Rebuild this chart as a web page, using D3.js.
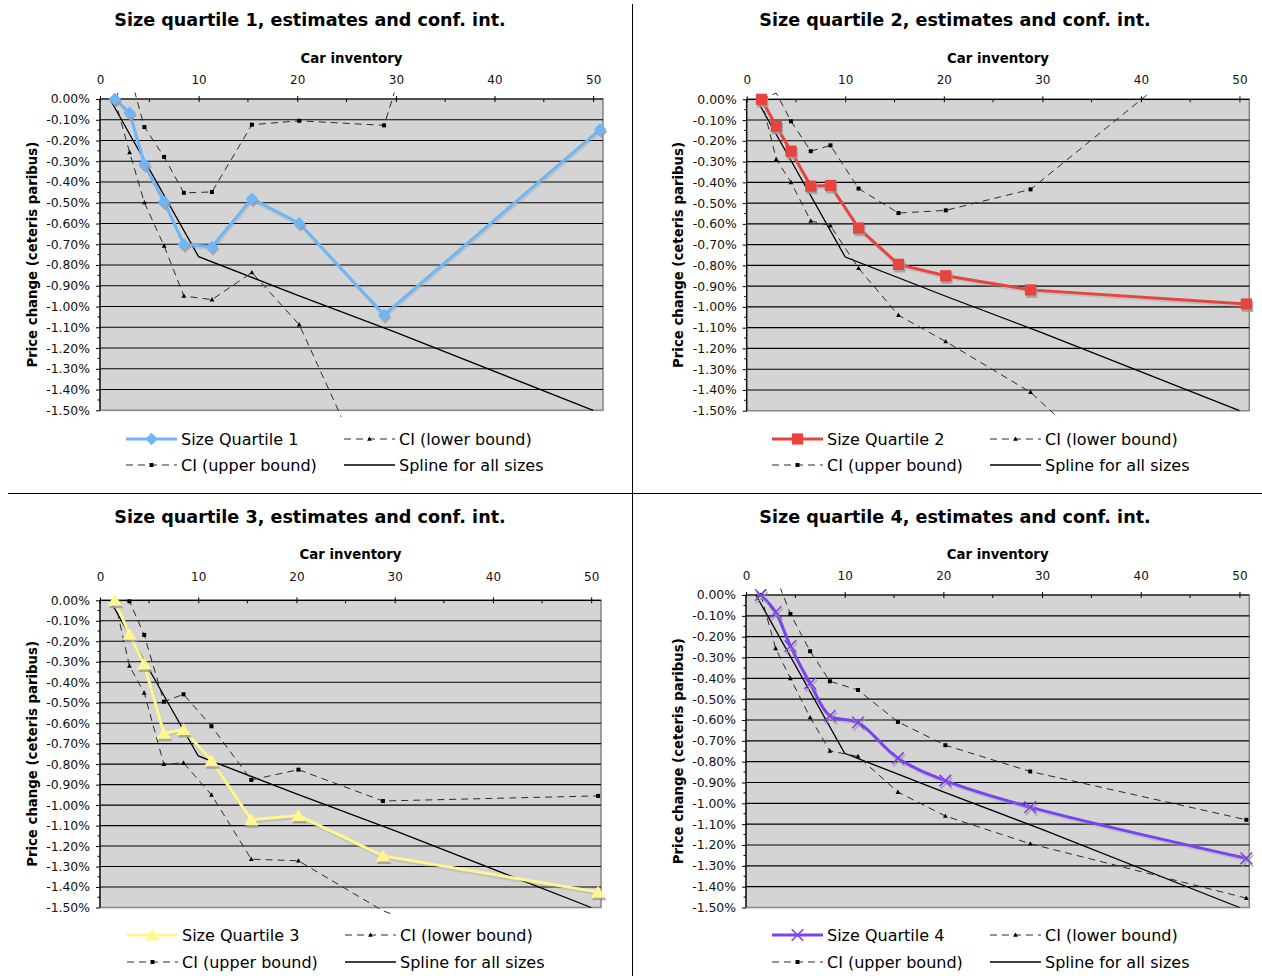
<!DOCTYPE html>
<html><head><meta charset="utf-8">
<script src="https://cdn.jsdelivr.net/npm/d3@7"></script>
<style>
body{margin:0;background:#fff}
svg{display:block}
text{font-family:"DejaVu Sans",Verdana,sans-serif}
</style>
</head><body>
<svg id="chart" width="1262" height="976"></svg>
<script>
// ---------------- data ----------------
const inventory = [1.5, 3.0, 4.5, 6.5, 8.5, 11.35, 15.4, 20.2, 28.8, 50.7];

const q1Est   = [0, -0.066, -0.315, -0.495, -0.700, -0.712, -0.480, -0.598, -1.040, -0.146];
const q1Upper = [0,  0.125, -0.135, -0.279, -0.452, -0.448, -0.124, -0.105, -0.127,  3.200];
const q1Lower = [0, -0.257, -0.499, -0.708, -0.949, -0.967, -0.836, -1.087, -1.983, -3.500];

const q2Est   = [0, -0.130, -0.250, -0.418, -0.415, -0.620, -0.795, -0.850, -0.918, -0.986];
const q2Upper = [0,  0.030, -0.106, -0.250, -0.222, -0.430, -0.548, -0.535, -0.434,  0.410];
const q2Lower = [0, -0.289, -0.400, -0.586, -0.609, -0.814, -1.040, -1.167, -1.411, -2.370];

const q3Est   = [0, -0.166, -0.311, -0.649, -0.631, -0.783, -1.072, -1.051, -1.248, -1.425];
const q3Upper = [0, -0.005, -0.169, -0.495, -0.459, -0.615, -0.877, -0.827, -0.980, -0.955];
const q3Lower = [0, -0.321, -0.452, -0.800, -0.794, -0.950, -1.264, -1.272, -1.516, -1.895];

const q4Est   = [0, -0.082, -0.245, -0.424, -0.580, -0.612, -0.783, -0.891, -1.018, -1.264];
const q4Upper = [0,  0.092, -0.091, -0.270, -0.414, -0.456, -0.609, -0.721, -0.847, -1.079];
const q4Lower = [0, -0.256, -0.400, -0.588, -0.748, -0.775, -0.946, -1.061, -1.194, -1.455];

const splineX = [1, 10, 20, 30, 50];
const splineY = [0, -0.760, -0.945, -1.125, -1.500];

const titles = ["Size quartile 1, estimates and conf. int.", "Size quartile 2, estimates and conf. int.",
                "Size quartile 3, estimates and conf. int.", "Size quartile 4, estimates and conf. int."];
const seriesNames = ["Size Quartile 1", "Size Quartile 2", "Size Quartile 3", "Size Quartile 4"];
const lowerName = "CI (lower bound)";
const upperName = "CI (upper bound)";
const splineName = "Spline for all sizes";
const xTitle = "Car inventory";
const yTitle = "Price change (ceteris paribus)";
const xTicks = [0, 10, 20, 30, 40, 50];
const xMinorTicks = [5, 15, 25, 35, 45];
const yTicks = d3.range(0, 16).map(i => -i / 10);
const yMinorTicks = d3.range(0, 15).map(i => -(i + 0.5) / 10);

// ---------------- layout / style ----------------
const panels = [
  {est: q1Est, up: q1Upper, lo: q1Lower, color: "#6DB6F8", marker: "diamond", smooth: false,
   l: 100, r: 603, t: 99, b: 410.3, titleX: 310, titleY: 20, carY: 58.5, xlabY: 80, legX: 126, legY1: 439, legY2: 465},
  {est: q2Est, up: q2Upper, lo: q2Lower, color: "#E8443E", marker: "square", smooth: false,
   l: 746.7, r: 1249.3, t: 99.3, b: 410.7, titleX: 955, titleY: 20, carY: 58.5, xlabY: 80, legX: 772, legY1: 439, legY2: 465},
  {est: q3Est, up: q3Upper, lo: q3Lower, color: "#FFF690", marker: "triangle", smooth: false,
   l: 100, r: 601, t: 600.3, b: 907.5, titleX: 310, titleY: 517, carY: 554.5, xlabY: 577, legX: 127, legY1: 935, legY2: 962},
  {est: q4Est, up: q4Upper, lo: q4Lower, color: "#7B42F2", marker: "x", smooth: true,
   l: 746, r: 1249.3, t: 595, b: 907.5, titleX: 955, titleY: 517, carY: 554.5, xlabY: 576, legX: 772, legY1: 935, legY2: 962}
];

const fmt = d3.formatLocale({decimal: ".", thousands: ",", grouping: [3], currency: ["", ""], minus: "-"}).format(".2f");

const svg = d3.select("#chart");
const defs = svg.append("defs");

// dividers
svg.append("line").attr("x1", 632.5).attr("x2", 632.5).attr("y1", 4).attr("y2", 976).attr("stroke", "#000").attr("stroke-width", 1);
svg.append("line").attr("x1", 8).attr("x2", 1262).attr("y1", 493.5).attr("y2", 493.5).attr("stroke", "#000").attr("stroke-width", 1);

function markerPath(type, s) {
  if (type === "diamond") return `M0,${-s}L${s},0L0,${s}L${-s},0Z`;
  if (type === "square") return `M${-s},${-s}H${s}V${s}H${-s}Z`;
  if (type === "triangle") return `M0,${-s}L${s * 1.1},${s * 0.85}L${-s * 1.1},${s * 0.85}Z`;
  if (type === "x") return `M${-s},${-s}L${s},${s}M${s},${-s}L${-s},${s}`;
  return "";
}
const markerSize = {diamond: 6.2, square: 5.6, triangle: 6.5, x: 5.8};

function drawMarker(g, type, color, cx, cy, shadow) {
  const s = markerSize[type];
  const isX = type === "x";
  if (shadow) {
    g.append("path").attr("d", markerPath(type, s))
      .attr("transform", `translate(${cx + 1.2},${cy + 2.5})`)
      .attr("fill", isX ? "none" : "#9a9a9a").attr("stroke", isX ? "#9a9a9a" : "none")
      .attr("stroke-width", 1.5).attr("opacity", 0.8);
  }
  g.append("path").attr("d", markerPath(type, s))
    .attr("transform", `translate(${cx},${cy})`)
    .attr("fill", isX ? "none" : color).attr("stroke", isX ? color : "none").attr("stroke-width", 1.6);
}
function drawCIMarker(g, kind, cx, cy) {
  if (kind === "up") {
    g.append("rect").attr("x", cx - 2).attr("y", cy - 2).attr("width", 4).attr("height", 4).attr("fill", "#000");
  } else {
    g.append("path").attr("d", "M0,-2.6L2.4,1.8L-2.4,1.8Z").attr("transform", `translate(${cx},${cy})`).attr("fill", "#000");
  }
}

panels.forEach((p, i) => {
  const g = svg.append("g");
  const x = d3.scaleLinear().domain([0, 51]).range([p.l, p.r]);
  const y = d3.scaleLinear().domain([-1.5, 0]).range([p.b, p.t]);

  // title
  g.append("text").attr("x", p.titleX).attr("y", p.titleY).attr("dy", "0.36em")
    .attr("text-anchor", "middle").attr("font-weight", "bold").attr("font-size", "17.6px").text(titles[i]);

  // plot background
  g.append("rect").attr("x", p.l).attr("y", p.t).attr("width", p.r - p.l).attr("height", p.b - p.t)
    .attr("fill", "#D4D4D4").attr("stroke", "#8a8a8a").attr("stroke-width", 1.6);

  // gridlines
  g.append("g").selectAll("line").data(yTicks.filter(v => v < -0.001 && v > -1.499)).join("line")
    .attr("x1", p.l).attr("x2", p.r).attr("y1", d => y(d)).attr("y2", d => y(d))
    .attr("stroke", "#000").attr("stroke-width", 1.1);

  // y axis
  const ya = g.append("g").attr("transform", `translate(${p.l},0)`)
    .call(d3.axisLeft(y).tickValues(yTicks).tickSize(4).tickPadding(6)
      .tickFormat(d => fmt(Math.abs(d) < 1e-9 ? 0 : d) + "%"));
  ya.select(".domain").remove();
  ya.selectAll("text").attr("font-size", "12.4px").attr("fill", "#111").attr("font-family", "DejaVu Sans, Verdana, sans-serif");
  ya.selectAll(".tick line").attr("stroke", "#000");
  g.append("g").selectAll("line").data(yMinorTicks).join("line")
    .attr("x1", p.l - 2.5).attr("x2", p.l).attr("y1", d => y(d)).attr("y2", d => y(d)).attr("stroke", "#000");
  g.append("line").attr("x1", p.l).attr("x2", p.l).attr("y1", p.t).attr("y2", p.b).attr("stroke", "#000").attr("stroke-width", 1.2);

  // x axis (top)
  const xa = g.append("g").attr("transform", `translate(0,${p.t})`)
    .call(d3.axisTop(x).tickValues(xTicks).tickSize(3).tickFormat(d3.format("d")));
  xa.select(".domain").remove();
  xa.selectAll(".tick line").attr("y1", 3).attr("y2", -3).attr("stroke", "#000");
  xa.selectAll("text").attr("font-size", "12px").attr("fill", "#111").attr("font-family", "DejaVu Sans, Verdana, sans-serif")
    .attr("y", p.xlabY - p.t).attr("dy", "0.36em");
  g.append("g").selectAll("line").data(xMinorTicks).join("line")
    .attr("x1", d => x(d)).attr("x2", d => x(d)).attr("y1", p.t).attr("y2", p.t + 3).attr("stroke", "#000");
  g.append("line").attr("x1", p.l).attr("x2", p.r).attr("y1", p.t).attr("y2", p.t).attr("stroke", "#000").attr("stroke-width", 1.2);

  // axis titles
  g.append("text").attr("x", (p.l + p.r) / 2).attr("y", p.carY).attr("dy", "0.36em")
    .attr("text-anchor", "middle").attr("font-weight", "bold").attr("font-size", "13.3px").text(xTitle);
  g.append("text").attr("transform", `translate(${p.l - 68},${(p.t + p.b) / 2}) rotate(-90)`).attr("dy", "0.36em")
    .attr("text-anchor", "middle").attr("font-weight", "bold").attr("font-size", "13.3px").text(yTitle);

  // clip
  const cid = "clip" + i;
  defs.append("clipPath").attr("id", cid).append("rect")
    .attr("x", p.l - 2).attr("y", p.t - 6.5).attr("width", p.r - p.l + 4).attr("height", p.b - p.t + 13);
  const pg = g.append("g").attr("clip-path", `url(#${cid})`);

  const lineGen = d3.line().x(d => x(d[0])).y(d => y(d[1]));
  const toPts = arr => inventory.map((v, k) => [v, arr[k]]);

  // spline for all sizes
  pg.append("path").datum(splineX.map((v, k) => [v, splineY[k]])).attr("d", lineGen)
    .attr("fill", "none").attr("stroke", "#000").attr("stroke-width", 1.3);

  // CI lines
  [["lo", p.lo], ["up", p.up]].forEach(([kind, arr]) => {
    pg.append("path").datum(toPts(arr)).attr("d", lineGen)
      .attr("fill", "none").attr("stroke", "#2a2a2a").attr("stroke-width", 1).attr("stroke-dasharray", "7,5");
    toPts(arr).filter(d => d[1] <= 0.0001 && d[1] >= -1.5).forEach(d => drawCIMarker(pg, kind, x(d[0]), y(d[1])));
  });

  // estimates
  const estGen = d3.line().x(d => x(d[0])).y(d => y(d[1])).curve(p.smooth ? d3.curveCatmullRom.alpha(0.5) : d3.curveLinear);
  pg.append("path").datum(toPts(p.est)).attr("d", estGen).attr("transform", "translate(1,2)")
    .attr("fill", "none").attr("stroke", "#9a9a9a").attr("stroke-width", 3).attr("opacity", 0.35);
  pg.append("path").datum(toPts(p.est)).attr("d", estGen)
    .attr("fill", "none").attr("stroke", p.color).attr("stroke-width", 3);
  const mg = g.append("g");
  toPts(p.est).forEach(d => drawMarker(mg, p.marker, p.color, x(d[0]), y(d[1]), true));

  // legend
  const lg = g.append("g").attr("font-size", "16px");
  const col1 = p.legX, col2 = p.legX + 218;
  lg.append("line").attr("x1", col1).attr("x2", col1 + 51).attr("y1", p.legY1).attr("y2", p.legY1)
    .attr("stroke", p.color).attr("stroke-width", 3);
  drawMarker(lg, p.marker, p.color, col1 + 25.5, p.legY1, false);
  lg.append("text").attr("x", col1 + 55).attr("y", p.legY1).attr("dy", "0.36em").text(seriesNames[i]);
  lg.append("line").attr("x1", col2).attr("x2", col2 + 51).attr("y1", p.legY1).attr("y2", p.legY1)
    .attr("stroke", "#2a2a2a").attr("stroke-width", 1).attr("stroke-dasharray", "7,5");
  drawCIMarker(lg, "lo", col2 + 25.5, p.legY1);
  lg.append("text").attr("x", col2 + 55).attr("y", p.legY1).attr("dy", "0.36em").text(lowerName);
  lg.append("line").attr("x1", col1).attr("x2", col1 + 51).attr("y1", p.legY2).attr("y2", p.legY2)
    .attr("stroke", "#2a2a2a").attr("stroke-width", 1).attr("stroke-dasharray", "7,5");
  drawCIMarker(lg, "up", col1 + 25.5, p.legY2);
  lg.append("text").attr("x", col1 + 55).attr("y", p.legY2).attr("dy", "0.36em").text(upperName);
  lg.append("line").attr("x1", col2).attr("x2", col2 + 51).attr("y1", p.legY2).attr("y2", p.legY2)
    .attr("stroke", "#000").attr("stroke-width", 1.3);
  lg.append("text").attr("x", col2 + 55).attr("y", p.legY2).attr("dy", "0.36em").text(splineName);
});
</script>
</body></html>
